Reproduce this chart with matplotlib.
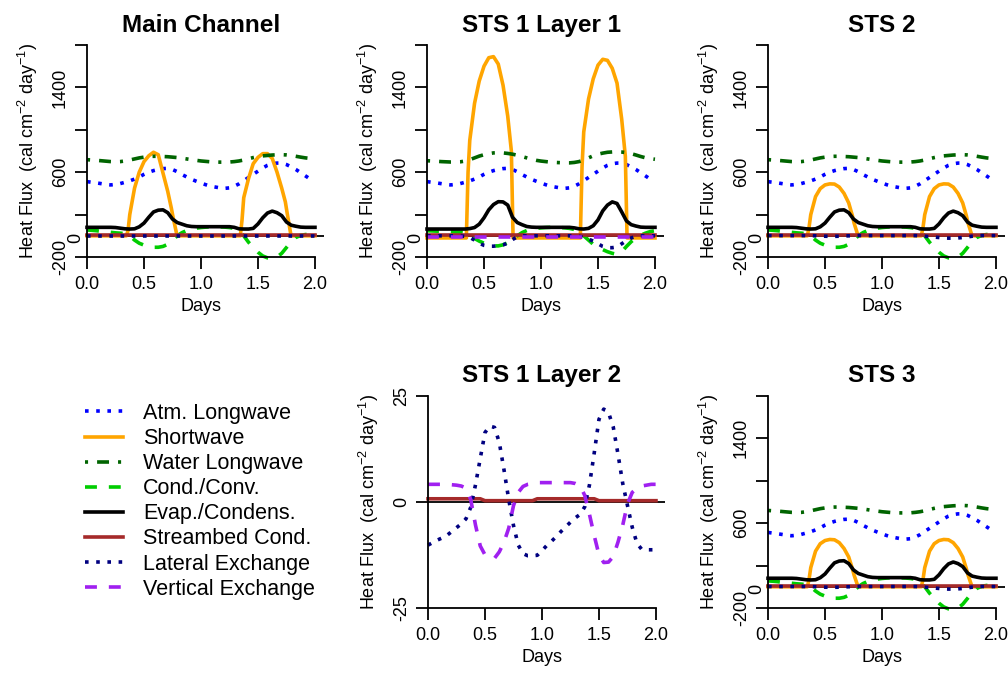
import numpy as np
import matplotlib
matplotlib.use("Agg")
import matplotlib.pyplot as plt
from matplotlib.lines import Line2D

plt.rcParams['font.family'] = ['Liberation Sans', 'DejaVu Sans']
plt.rcParams['mathtext.fontset'] = 'custom'
plt.rcParams['mathtext.rm'] = 'Liberation Sans'
plt.rcParams['mathtext.it'] = 'Liberation Sans:italic'
plt.rcParams['mathtext.bf'] = 'Liberation Sans:bold'
plt.rcParams['mathtext.default'] = 'regular'

W, H = 1008, 673   # output size in pixels (dpi 100)
LW = 2.6           # series line width

# --- Data (cal cm-2 day-1), hourly output over two days ---
days = np.linspace(0, 2, 49)

atm_longwave = [511, 505, 499, 492, 485, 480, 485, 493, 505, 518,
                535, 555, 580, 600, 615, 626, 634, 636, 625, 605,
                578, 555, 533, 515, 498, 482, 468, 460, 452, 448,
                452, 468, 490, 520, 550, 580, 610, 640, 665, 680,
                686, 686, 672, 650, 625, 595, 565, 535, 525]

water_lw_surface = [718, 715, 712, 708, 704, 700, 698, 700, 706, 715,
                    725, 735, 742, 748, 750, 750, 748, 746, 742, 738,
                    732, 725, 718, 712, 706, 702, 698, 696, 695, 695,
                    696, 700, 706, 715, 727, 738, 747, 754, 758, 762,
                    764, 765, 763, 758, 750, 742, 735, 730, 725]
water_lw_sts1 = [708, 706, 703, 700, 698, 696, 696, 698, 705, 718,
                 735, 752, 765, 775, 782, 784, 782, 777, 770, 760,
                 748, 735, 722, 712, 705, 700, 695, 692, 690, 688,
                 688, 692, 700, 715, 735, 755, 770, 780, 788, 791,
                 792, 790, 785, 775, 762, 748, 736, 728, 722]

cond_surface = [55, 52, 48, 42, 38, 33, 28, 25, 20, 0,
                -40, -70, -88, -100, -108, -108, -100, -80, -45, 0,
                30, 50, 62, 72, 78, 82, 85, 85, 84, 82,
                78, 70, 50, 0, -60, -110, -155, -190, -208, -212,
                -200, -165, -110, -55, -15, 5, 12, 15, 18]
cond_sts1 = [48, 46, 44, 42, 40, 38, 36, 35, 30, 10,
             -25, -50, -70, -85, -95, -95, -85, -65, -35, 0,
             30, 50, 62, 70, 75, 78, 80, 80, 78, 75,
             70, 60, 40, 0, -40, -80, -110, -130, -150, -165,
             -175, -150, -100, -55, -20, 5, 25, 40, 48]

evap_surface = [80, 80, 80, 80, 80, 80, 78, 72, 66, 64,
                66, 85, 120, 175, 225, 242, 245, 218, 158, 125,
                110, 95, 88, 86, 86, 86, 86, 86, 86, 86,
                86, 80, 66, 64, 64, 70, 112, 170, 215, 233,
                218, 190, 130, 100, 90, 82, 80, 80, 80]
evap_sts1 = [64, 64, 64, 64, 64, 64, 64, 64, 64, 68,
             78, 110, 170, 245, 295, 322, 320, 290, 175, 125,
             105, 88, 82, 80, 80, 80, 80, 80, 80, 80,
             80, 75, 66, 64, 70, 95, 150, 235, 290, 320,
             305, 225, 140, 105, 92, 82, 80, 80, 80]

streambed_surface = [8, 8, 8, 8, 8, 8, 8, 8, 8, 8,
                     8, 8, 8, 8, 8, 8, 8, 8, 8, 8,
                     8, 8, 8, 8, 8, 8, 8, 8, 8, 8,
                     8, 8, 8, 8, 8, 8, 8, 8, 8, 8,
                     8, 8, 8, 8, 8, 8, 8, 8, 8]
streambed_layer2 = [0.7, 0.7, 0.7, 0.7, 0.7, 0.7, 0.7, 0.7, 0.7, 0.7,
                    0.7, 0.7, 0.25, 0.25, 0.25, 0.25, 0.25, 0.25, 0.25, 0.25,
                    0.25, 0.25, 0.25, 0.7, 0.7, 0.7, 0.7, 0.7, 0.7, 0.7,
                    0.7, 0.7, 0.7, 0.7, 0.7, 0.7, 0.25, 0.25, 0.25, 0.25,
                    0.25, 0.25, 0.25, 0.25, 0.25, 0.25, 0.25, 0.25, 0.25]

lateral_main = [2, 2, 2, 2, 2, 2, 2, 2, 2, 2,
                2, 2, 2, 2, 2, 2, 2, 2, 2, 2,
                2, 2, 2, 2, 2, 2, 2, 2, 2, 2,
                2, 2, 2, 2, 2, 2, 2, 2, 2, 2,
                2, 2, 2, 2, 2, 2, 2, 2, 2]
lateral_sts = [2, 2, 2, 2, 2, 2, 2, 2, 2, 2,
               0, -2, -4, -5, -5, -4, -2, 0, 2, 2,
               2, 2, 2, 2, 2, 2, 2, 2, 2, 2,
               2, 2, 0, -4, -8, -12, -16, -20, -22, -22,
               -20, -16, -10, -4, 0, 2, 2, 2, 2]
lateral_sts1 = [0, 0, 0, 0, 0, 0, 0, -2, -5, -15,
                -40, -70, -90, -98, -98, -92, -85, -70, -35, -10,
                0, 0, 0, 0, 0, 0, 0, 0, 0, 0,
                0, -2, -5, -15, -30, -50, -75, -100, -112, -112,
                -105, -75, -45, -20, -5, 0, 0, 0, 0]
lateral_layer2 = [-10.2, -9.6, -9.0, -8.5, -7.9, -7.0, -6.1, -5.2, -4.0, -1.3,
                  4.0, 10.2, 16.3, 17.8, 17.5, 14.0, 7.5, 0.5, -5.6, -10.2,
                  -12.2, -12.7, -12.7, -12.6, -11.5, -10.3, -9.3, -8.2, -7.0, -5.9,
                  -4.8, -3.8, -3.0, -1.2, 4.0, 11.5, 19.4, 21.8, 21.0, 17.6,
                  11.2, 4.3, -0.9, -6.0, -9.8, -11.2, -11.3, -11.3, -11.3]

vertical_sts1 = [-12, -12, -12, -12, -12, -12, -12, -12, -12, -12,
                 -12, -12, -12, -12, -12, -12, -12, -12, -12, -12,
                 -12, -12, -12, -12, -12, -12, -12, -12, -12, -12,
                 -12, -12, -12, -12, -12, -12, -12, -12, -12, -12,
                 -12, -12, -12, -12, -12, -12, -12, -12, -12]
vertical_layer2 = [4.1, 4.1, 4.1, 4.1, 4.1, 4.0, 3.9, 3.7, 3.2, 0.5,
                   -5.5, -10.4, -12.5, -13.2, -13.3, -11.8, -9.5, -6.2, -0.9, 2.2,
                   3.6, 4.1, 4.3, 4.5, 4.5, 4.5, 4.5, 4.5, 4.5, 4.5,
                   4.5, 4.3, 3.8, 1.5, -3.0, -8.0, -12.5, -14.3, -14.2, -12.9,
                   -9.5, -5.5, -0.5, 2.2, 3.2, 3.7, 3.9, 4.1, 4.1]

# shortwave has sharp sunrise / sunset edges, so it gets its own time points
sw_days = [0.0, 0.345, 0.36, 0.375, 0.417, 0.458, 0.5, 0.542, 0.583, 0.625,
           0.667, 0.708, 0.74, 0.755, 0.79,
           1.345, 1.36, 1.375, 1.417, 1.458, 1.5, 1.542, 1.583, 1.625, 1.667,
           1.708, 1.74, 1.755, 1.79, 2.0]
sw_main = [0, 0, 50, 200, 450, 600, 700, 755, 788, 765,
           590, 420, 260, 175, 0,
           0, 150, 360, 540, 680, 740, 775, 775, 730, 600,
           450, 320, 220, 0, 0]
sw_sts1 = [-20, -20, 600, 900, 1250, 1460, 1600, 1680, 1690, 1620,
           1420, 1130, 800, -20, -20,
           -20, 650, 980, 1290, 1480, 1610, 1665, 1655, 1580, 1440,
           1100, 750, -20, -20, -20]
sw_sts2 = [0, 0, 80, 200, 370, 445, 480, 490, 488, 460,
           400, 310, 190, 120, 0,
           0, 80, 200, 370, 445, 480, 490, 488, 460, 400,
           310, 190, 120, 0, 0]
sw_sts3 = [0, 0, 70, 180, 335, 405, 435, 445, 442, 415,
           360, 280, 170, 110, 0,
           0, 70, 180, 335, 405, 435, 445, 442, 415, 360,
           280, 170, 110, 0, 0]

x_ticks = [0, 0.5, 1.0, 1.5, 2.0]
x_ticklabels = ['0.0', '0.5', '1.0', '1.5', '2.0']
y_ticks_surface = [-200, 200, 600, 1000, 1400, 1800]
y_ticklabels_surface = ['-200', '', '600', '', '1400', '']
y_ticks_layer2 = [-25, 0, 25]
y_ticklabels_layer2 = ['-25', '0', '25']

# --- Styles (R-like colours and line types) ---
STYLE = {
    'Atm. Longwave': dict(color='#0000FF', ls=(0, (1, 2.1))),
    'Shortwave': dict(color='#FFA500', ls='-'),
    'Water Longwave': dict(color='#006400', ls=(0, (0.85, 2.5, 3.3, 2.5))),
    'Cond./Conv.': dict(color='#00CD00', ls=(0, (3.3, 3.3))),
    'Evap./Condens.': dict(color='black', ls='-'),
    'Streambed Cond.': dict(color='#A52A2A', ls='-'),
    'Lateral Exchange': dict(color='#000080', ls=(0, (1, 2.1))),
    'Vertical Exchange': dict(color='#A020F0', ls=(0, (3.3, 3.3))),
}
YLABEL = r'Heat Flux  (cal cm$^{-2}$ day$^{-1}$)'

fig = plt.figure(figsize=(W / 100, H / 100), dpi=100)


def px_rect(left, top, width, height):
    return [left / W, 1 - (top + height) / H, width / W, height / H]


def draw_panel(rect, title, series, ylo, yhi, yticks, yticklabels, zero_label=False):
    ax = fig.add_axes(rect)
    pad = 0.04 * (yhi - ylo)
    ax.hlines(0, 0, 2.08, color='black', lw=1.3, zorder=1)
    for name, x, y in series:
        st = STYLE[name]
        ax.plot(x, y, color=st['color'], linestyle=st['ls'], lw=LW,
                dash_capstyle='butt', zorder=2)
    ax.set_xlim(-0.08, 2.08)
    ax.set_ylim(ylo - pad, yhi + pad)
    ax.spines['top'].set_visible(False)
    ax.spines['right'].set_visible(False)
    ax.spines['left'].set_position(('data', 0))
    ax.spines['left'].set_bounds(ylo, yhi)
    ax.spines['bottom'].set_position(('data', ylo))
    ax.spines['bottom'].set_bounds(0, 2)
    for s in ['left', 'bottom']:
        ax.spines[s].set_linewidth(1.3)
    ax.set_xticks(x_ticks, x_ticklabels)
    ax.set_yticks(yticks, yticklabels)
    ax.tick_params(direction='out', length=8.5, width=1.3, labelsize=13)
    ax.tick_params(axis='x', pad=5.5)
    ax.tick_params(axis='y', pad=4.5, labelrotation=90)
    for lbl in ax.get_yticklabels():
        lbl.set_va('center')
    if zero_label:
        # the zero is labelled separately, tucked in next to the axis
        ax.annotate('0', xy=(0, 0), xytext=(-11, -2), textcoords='offset pixels',
                    rotation=90, ha='center', va='center', fontsize=13)
    ax.set_title(title, fontsize=17.5, fontweight='bold', pad=3)
    ax.set_xlabel('Days', fontsize=13, labelpad=3.5)
    ax.set_ylabel(YLABEL, fontsize=13)
    ax.yaxis.set_label_coords(-0.154, 0.5)
    return ax


draw_panel(px_rect(77.9, 36.5, 246.2, 229), 'Main Channel', [
    ('Atm. Longwave', days, atm_longwave),
    ('Shortwave', sw_days, sw_main),
    ('Water Longwave', days, water_lw_surface),
    ('Cond./Conv.', days, cond_surface),
    ('Evap./Condens.', days, evap_surface),
    ('Streambed Cond.', days, streambed_surface),
    ('Lateral Exchange', days, lateral_main),
], -200, 1800, y_ticks_surface, y_ticklabels_surface, zero_label=True)

draw_panel(px_rect(417.9, 36.5, 246.2, 229), 'STS 1 Layer 1', [
    ('Atm. Longwave', days, atm_longwave),
    ('Shortwave', sw_days, sw_sts1),
    ('Water Longwave', days, water_lw_sts1),
    ('Cond./Conv.', days, cond_sts1),
    ('Evap./Condens.', days, evap_sts1),
    ('Streambed Cond.', days, streambed_surface),
    ('Lateral Exchange', days, lateral_sts1),
    ('Vertical Exchange', days, vertical_sts1),
], -200, 1800, y_ticks_surface, y_ticklabels_surface, zero_label=True)

draw_panel(px_rect(758.9, 36.5, 246.2, 229), 'STS 2', [
    ('Atm. Longwave', days, atm_longwave),
    ('Shortwave', sw_days, sw_sts2),
    ('Water Longwave', days, water_lw_surface),
    ('Cond./Conv.', days, cond_surface),
    ('Evap./Condens.', days, evap_surface),
    ('Streambed Cond.', days, streambed_surface),
    ('Lateral Exchange', days, lateral_sts),
], -200, 1800, y_ticks_surface, y_ticklabels_surface, zero_label=True)

draw_panel(px_rect(418.9, 387, 246.2, 229.5), 'STS 1 Layer 2', [
    ('Streambed Cond.', days, streambed_layer2),
    ('Lateral Exchange', days, lateral_layer2),
    ('Vertical Exchange', days, vertical_layer2),
], -25, 25, y_ticks_layer2, y_ticklabels_layer2)

draw_panel(px_rect(758.9, 387, 246.2, 229.5), 'STS 3', [
    ('Atm. Longwave', days, atm_longwave),
    ('Shortwave', sw_days, sw_sts3),
    ('Water Longwave', days, water_lw_surface),
    ('Cond./Conv.', days, cond_surface),
    ('Evap./Condens.', days, evap_surface),
    ('Streambed Cond.', days, streambed_surface),
    ('Lateral Exchange', days, lateral_sts),
], -200, 1800, y_ticks_surface, y_ticklabels_surface, zero_label=True)

# --- Legend in the empty lower-left slot ---
handles = [Line2D([], [], color=st['color'], linestyle=st['ls'], lw=LW,
                  dash_capstyle='butt') for st in STYLE.values()]
fig.legend(handles, list(STYLE.keys()), loc='upper left',
           bbox_to_anchor=(85 / W, 1 - 403 / H), frameon=False, fontsize=15.5,
           handlelength=1.78, handletextpad=0.93, labelspacing=0.19,
           borderpad=0, borderaxespad=0)

fig.savefig('out.png', dpi=100)
